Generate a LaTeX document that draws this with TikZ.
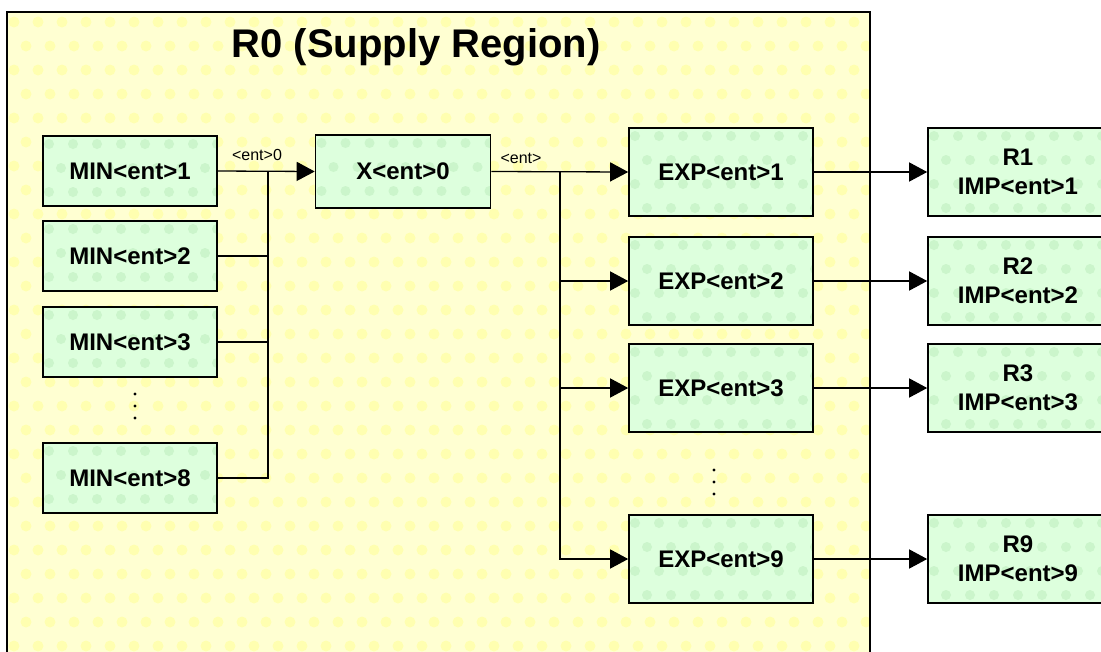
\documentclass[tikz,border=0pt]{standalone}
\usepackage{fontspec}
\setmainfont{Liberation Sans}
\usetikzlibrary{arrows.meta,calc}

\definecolor{regionbase}{HTML}{FFFFD2}
\definecolor{regiondot}{HTML}{FFFFB0}
\definecolor{boxbase}{HTML}{DDFFDD}
\definecolor{boxdot}{HTML}{CBF5CB}

\tikzset{
  unitbox/.style={
    draw=black, line width=1.6pt, fill=boxbase,
    minimum width=174pt, minimum height=70pt, inner sep=0pt,
    font=\fontsize{24}{29}\selectfont\bfseries, align=center,
    path picture={
      \foreach \j in {0,...,4}{
        \pgfmathsetmacro\dotoff{mod(\j,2)*12}
        \foreach \i in {0,...,8}{
          \fill[boxdot] ([shift={({\i*24+\dotoff+6},{\j*24+8})}]path picture bounding box.north west) circle[radius=5pt];
        }
      }
    }
  },
  expbox/.style={unitbox, minimum width=184pt, minimum height=88pt},
  wire/.style={draw=black, line width=1.3pt},
  feed/.style={wire, -{Triangle[length=18pt,width=19pt]}},
  tag/.style={font=\fontsize{16}{18}\selectfont, inner sep=0pt},
  ellipsisdot/.style={fill=black, radius=1.6pt}
}

\begin{document}
\begin{tikzpicture}[x=1pt,y=-1pt]
\useasboundingbox (0,0) rectangle (1101,651);
\fill[white] (0,0) rectangle (1101,651);

% supply region background with halftone dots
\begin{scope}
  \clip (7,12) rectangle (870,670);
  \fill[regionbase] (7,12) rectangle (870,670);
  \foreach \j in {0,...,27}{
    \pgfmathsetmacro\dotoff{mod(\j,2)*12}
    \foreach \i in {0,...,36}{
      \fill[regiondot] ({14+\i*24+\dotoff},{22+\j*24}) circle[radius=5.5pt];
    }
  }
\end{scope}
\draw[line width=1.6pt] (7,670) -- (7,12) -- (870,12) -- (870,670);

\node[font=\fontsize{40}{48}\selectfont\bfseries, inner sep=0pt] (title) at (416,47) {R0 (Supply Region)};

% mine boxes
\node[unitbox] (min1) at (130,171) {MIN<ent>1};
\node[unitbox] (min2) at (130,256) {MIN<ent>2};
\node[unitbox] (min3) at (130,342) {MIN<ent>3};
\node[unitbox] (min8) at (130,478) {MIN<ent>8};
\fill[ellipsisdot] (135,394) circle[];
\fill[ellipsisdot] (135,406) circle[];
\fill[ellipsisdot] (135,418) circle[];

% collector
\node[unitbox, minimum width=175pt, minimum height=73pt] (x0) at (403,171.5) {X<ent>0};

% export boxes
\node[expbox] (exp1) at (721,172) {EXP<ent>1};
\node[expbox] (exp2) at (721,281) {EXP<ent>2};
\node[expbox] (exp3) at (721,388) {EXP<ent>3};
\node[expbox] (exp9) at (721,559) {EXP<ent>9};
\fill[ellipsisdot] (714,470) circle[];
\fill[ellipsisdot] (714,482) circle[];
\fill[ellipsisdot] (714,494) circle[];

% import boxes in the receiving regions
\node[expbox, minimum width=180pt] (r1) at (1018,172) {R1\\IMP<ent>1};
\node[expbox, minimum width=180pt] (r2) at (1018,281) {R2\\IMP<ent>2};
\node[expbox, minimum width=180pt] (r3) at (1018,388) {R3\\IMP<ent>3};
\node[expbox, minimum width=180pt] (r9) at (1018,559) {R9\\IMP<ent>9};

% bus joining the mines
\coordinate (busL) at (268,171);
\draw[feed] (min1.east) -- (x0.west);
\draw[wire] (min8.east) -| (busL);
\draw[wire] (min2.east) -- (min2.east -| busL);
\draw[wire] (min3.east) -- (min3.east -| busL);
\node[tag] (lblA) at (257,155) {<ent>0};

% bus feeding the exports
\coordinate (busR) at (560,172);
\draw[feed] (x0.east) -- (exp1.west);
\draw[feed] (busR) |- (exp9.west);
\draw[feed] (exp2.west -| busR) -- (exp2.west);
\draw[feed] (exp3.west -| busR) -- (exp3.west);
\node[tag] (lblB) at (521,158.5) {<ent>};

% exports to imports
\draw[feed] (exp1.east) -- (r1.west);
\draw[feed] (exp2.east) -- (r2.west);
\draw[feed] (exp3.east) -- (r3.west);
\draw[feed] (exp9.east) -- (r9.west);
\end{tikzpicture}
\end{document}
